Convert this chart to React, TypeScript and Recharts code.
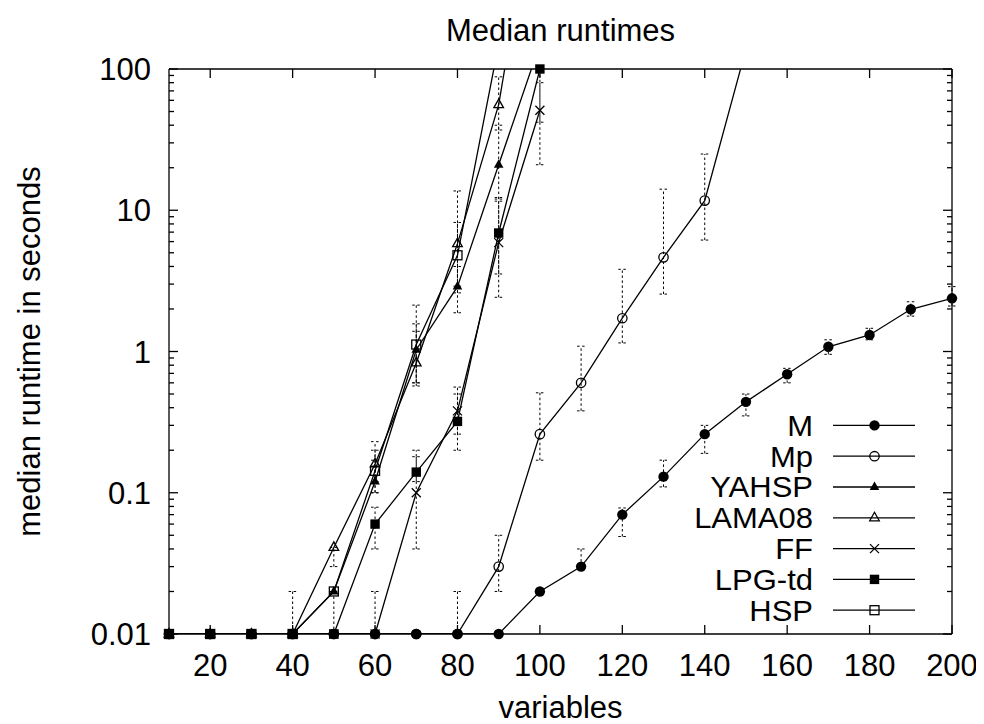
import React from 'react';
import { LineChart, Line, XAxis, YAxis, ErrorBar, Legend } from 'recharts';

const FONT = "'Liberation Sans', Arial, Helvetica, sans-serif";
const FS = 31;
const LEGEND_FS = 27.5;

// ---------- data ----------
const variables = [10, 20, 30, 40, 50, 60, 70, 80, 90, 100, 110, 120, 130, 140, 150, 160, 170, 180, 190, 200];

const valM = [0.01, 0.01, 0.01, 0.01, 0.01, 0.01, 0.01, 0.01, 0.01, 0.02, 0.03, 0.07, 0.13, 0.26, 0.44, 0.69, 1.08, 1.31, 1.99, 2.38];
const valMp = [0.01, 0.01, 0.01, 0.01, 0.01, 0.01, 0.01, 0.01, 0.03, 0.26, 0.6, 1.72, 4.64, 11.7, 138, null, null, null, null, null];
const valYAHSP = [0.01, 0.01, 0.01, 0.01, 0.02, 0.12, 1.03, 2.88, 21, 150, null, null, null, null, null, null, null, null, null, null];
const valLAMA08 = [0.01, 0.01, 0.01, 0.01, 0.041, 0.16, 0.83, 5.8, 56, 3000, null, null, null, null, null, null, null, null, null, null];
const valFF = [0.01, 0.01, 0.01, 0.01, 0.01, 0.01, 0.1, 0.38, 5.9, 51, null, null, null, null, null, null, null, null, null, null];
const valLPG = [0.01, 0.01, 0.01, 0.01, 0.01, 0.06, 0.14, 0.32, 6.9, 100, null, null, null, null, null, null, null, null, null, null];
const valHSP = [0.01, 0.01, 0.01, 0.01, 0.02, 0.143, 1.12, 4.8, 150, null, null, null, null, null, null, null, null, null, null, null];

// error ranges [low, high] (absolute values), null = no bar
const N = null;
const errM = [N, N, N, N, N, N, N, N, N, N, [0.03, 0.04], [0.049, 0.078], [0.11, 0.17], [0.19, 0.3], [0.35, 0.5], [0.6, 0.76], [0.955, 1.21], [1.21, 1.46], [1.78, 2.25], [2.1, 2.88]];
const errMp = [N, N, N, N, N, N, N, [0.01, 0.02], [0.02, 0.05], [0.17, 0.51], [0.38, 1.09], [1.15, 3.82], [2.55, 14.1], [6.15, 25], N, N, N, N, N, N];
const errYAHSP = [N, N, N, [0.01, 0.02], N, [0.1, 0.2], [0.6, 1.39], [1.88, 4.0], [12, 40], N, N, N, N, N, N, N, N, N, N, N];
const errLAMA08 = [N, N, N, N, [0.03, 0.041], [0.12, 0.23], [0.57, 1.57], [2.6, 13.7], [37, 88], N, N, N, N, N, N, N, N, N, N, N];
const errFF = [N, N, N, N, [0.01, 0.02], [0.01, 0.02], [0.04, 0.18], [0.2, 0.56], [2.42, 11.6], [21, 80], N, N, N, N, N, N, N, N, N, N];
const errLPG = [N, N, N, N, N, [0.04, 0.079], [0.12, 0.2], [0.26, 0.5], [3.54, 12.3], [42, 100], N, N, N, N, N, N, N, N, N, N];
const errHSP = [N, N, N, N, N, [0.1, 0.17], [0.6, 2.13], [2.9, 8.2], N, N, N, N, N, N, N, N, N, N, N, N];

const xTicks = [20, 40, 60, 80, 100, 120, 140, 160, 180, 200];
const yMajorTicks = [0.01, 0.1, 1, 10, 100];
const yMajorLabels = ['0.01', '0.1', '1', '10', '100'];
const yMinorTicks = [0.02, 0.03, 0.04, 0.05, 0.06, 0.07, 0.08, 0.09, 0.2, 0.3, 0.4, 0.5, 0.6, 0.7, 0.8, 0.9, 2, 3, 4, 5, 6, 7, 8, 9, 20, 30, 40, 50, 60, 70, 80, 90];

const SERIES = [
  { key: 'M', name: 'M', values: valM, errors: errM, marker: 'circleFilled' },
  { key: 'Mp', name: 'Mp', values: valMp, errors: errMp, marker: 'circleOpen' },
  { key: 'YAHSP', name: 'YAHSP', values: valYAHSP, errors: errYAHSP, marker: 'triFilled' },
  { key: 'LAMA08', name: 'LAMA08', values: valLAMA08, errors: errLAMA08, marker: 'triOpen' },
  { key: 'FF', name: 'FF', values: valFF, errors: errFF, marker: 'cross' },
  { key: 'LPGtd', name: 'LPG-td', values: valLPG, errors: errLPG, marker: 'sqFilled' },
  { key: 'HSP', name: 'HSP', values: valHSP, errors: errHSP, marker: 'sqOpen' },
];

const table = variables.map((x, i) => {
  const row: any = { x };
  SERIES.forEach((s) => {
    const v = s.values[i];
    row[s.key] = v;
    const e = s.errors[i] as number[] | null;
    row[s.key + '_err'] = e && v != null ? [Math.max(v - e[0], 0), Math.max(e[1] - v, 0)] : null;
  });
  return row;
});

// ---------- layout ----------
const W = 976;
const H = 716;
const TOP_H = 61;
const BOTTOM_H = 90;
const LEFT_W = 161;
const RIGHT_W = 32;
const PL = LEFT_W;
const PR = W - RIGHT_W;
const PT = TOP_H;
const PB = H - BOTTOM_H;
const MAJ = 9;
const MIN = 5;
const LW = 1.3;
const ROW_H = 30.8;

function Marker({ kind, cx, cy }: { kind: string; cx: number; cy: number }) {
  switch (kind) {
    case 'circleFilled':
      return <circle cx={cx} cy={cy} r={5.2} fill="#000" />;
    case 'circleOpen':
      return <circle cx={cx} cy={cy} r={4.7} fill="none" stroke="#000" strokeWidth={1.3} />;
    case 'triFilled':
      return <polygon points={`${cx},${cy - 5.5} ${cx + 4.8},${cy + 3} ${cx - 4.8},${cy + 3}`} fill="#000" />;
    case 'triOpen':
      return <polygon points={`${cx},${cy - 5.5} ${cx + 4.8},${cy + 3} ${cx - 4.8},${cy + 3}`} fill="none" stroke="#000" strokeWidth={1.3} />;
    case 'cross':
      return <path d={`M${cx - 4.5},${cy - 4.5}L${cx + 4.5},${cy + 4.5}M${cx - 4.5},${cy + 4.5}L${cx + 4.5},${cy - 4.5}`} stroke="#000" strokeWidth={1.3} fill="none" />;
    case 'sqFilled':
      return <rect x={cx - 4.7} y={cy - 4.7} width={9.4} height={9.4} fill="#000" />;
    case 'sqOpen':
      return <rect x={cx - 4.5} y={cy - 4.5} width={9} height={9} fill="none" stroke="#000" strokeWidth={1.3} />;
    default:
      return null;
  }
}

// markers are drawn through the line's label layer so that points on the frame are not clipped
const makeMarkerLabel = (kind: string) => (props: any) => {
  const vb = props.viewBox || {};
  const cx = vb.x != null ? vb.x : props.x;
  const cy = vb.y != null ? vb.y : props.y;
  const value = props.value;
  const k = `mk-${kind}-${props.index}`;
  if (cx == null || cy == null || value == null || Number(value) > 100 || Number.isNaN(cy)) return <g key={k} />;
  return (
    <g key={k}>
      <Marker kind={kind} cx={cx} cy={cy} />
    </g>
  );
};

const textStyle = { fontFamily: FONT, fontSize: FS, fill: '#000' };

const XTickBottom = (props: any) => {
  const { x, payload } = props;
  return (
    <g>
      <line x1={x} x2={x} y1={PB} y2={PB - MAJ} stroke="#000" strokeWidth={LW} />
      <text x={x} y={PB + 42} textAnchor="middle" style={textStyle}>
        {String(payload.value)}
      </text>
    </g>
  );
};

const XTickTop = (props: any) => {
  const { x } = props;
  return <line x1={x} x2={x} y1={PT} y2={PT + MAJ} stroke="#000" strokeWidth={LW} />;
};

const YTickLeft = (props: any) => {
  const { y, payload } = props;
  const idx = yMajorTicks.indexOf(payload.value);
  const major = idx >= 0;
  return (
    <g>
      <line x1={PL} x2={PL + (major ? MAJ : MIN)} y1={y} y2={y} stroke="#000" strokeWidth={LW} />
      {major && (
        <text x={PL - 18} y={y} dy="0.36em" textAnchor="end" style={textStyle}>
          {yMajorLabels[idx]}
        </text>
      )}
    </g>
  );
};

const YTickRight = (props: any) => {
  const { y, payload } = props;
  const major = yMajorTicks.indexOf(payload.value) >= 0;
  return <line x1={PR} x2={PR - (major ? MAJ : MIN)} y1={y} y2={y} stroke="#000" strokeWidth={LW} />;
};

const TitleLabel = (props: any) => {
  const vb = props.viewBox || { x: PL, y: 0, width: PR - PL, height: TOP_H };
  return (
    <text x={vb.x + vb.width / 2} y={33} textAnchor="middle" style={textStyle}>
      Median runtimes
    </text>
  );
};

const XLabel = (props: any) => {
  const vb = props.viewBox || { x: PL, y: PB, width: PR - PL, height: BOTTOM_H };
  return (
    <text x={vb.x + vb.width / 2} y={H - 6} textAnchor="middle" style={textStyle}>
      variables
    </text>
  );
};

const YLabel = (props: any) => {
  const vb = props.viewBox || { x: 0, y: PT, width: LEFT_W, height: PB - PT };
  const cx = 21;
  const cy = vb.y + vb.height / 2;
  return (
    <text x={cx} y={cy} dy="0.36em" textAnchor="middle" transform={`rotate(-90, ${cx}, ${cy})`} style={textStyle}>
      median runtime in seconds
    </text>
  );
};

const LegendBox = () => (
  <svg width={420} height={ROW_H * SERIES.length} style={{ display: 'block', overflow: 'visible' }}>
    {SERIES.map((s, i) => {
      const cy = ROW_H * i + ROW_H / 2;
      return (
        <g key={s.key}>
          <text
            x={0}
            y={0}
            dy="0.36em"
            textAnchor="end"
            transform={`translate(300, ${cy}) scale(${FS / LEGEND_FS}, 1.04)`}
            style={{ ...textStyle, fontSize: LEGEND_FS }}
          >
            {s.name}
          </text>
          <line x1={320} x2={402} y1={cy} y2={cy} stroke="#000" strokeWidth={LW} />
          <Marker kind={s.marker} cx={361.5} cy={cy} />
        </g>
      );
    })}
  </svg>
);

export default function App() {
  return (
    <div style={{ width: W, height: H }}>
      <LineChart width={W} height={H} data={table} margin={{ top: 0, right: 0, bottom: 0, left: 0 }}>
        <XAxis
          xAxisId="b"
          dataKey="x"
          type="number"
          domain={[10, 200]}
          allowDataOverflow
          ticks={xTicks}
          interval={0}
          height={BOTTOM_H}
          tickLine={false}
          tick={XTickBottom}
          stroke="#000"
          strokeWidth={LW}
          label={XLabel}
        />
        <XAxis
          xAxisId="t"
          orientation="top"
          dataKey="x"
          type="number"
          domain={[10, 200]}
          allowDataOverflow
          ticks={xTicks}
          interval={0}
          height={TOP_H}
          tickLine={false}
          tick={XTickTop}
          stroke="#000"
          strokeWidth={LW}
          label={TitleLabel}
        />
        <YAxis
          yAxisId="l"
          scale="log"
          type="number"
          domain={[0.01, 100]}
          allowDataOverflow
          ticks={[...yMajorTicks, ...yMinorTicks]}
          interval={0}
          width={LEFT_W}
          tickLine={false}
          tick={YTickLeft}
          stroke="#000"
          strokeWidth={LW}
          label={YLabel}
        />
        <YAxis
          yAxisId="r"
          orientation="right"
          scale="log"
          type="number"
          domain={[0.01, 100]}
          allowDataOverflow
          ticks={[...yMajorTicks, ...yMinorTicks]}
          interval={0}
          width={RIGHT_W}
          tickLine={false}
          tick={YTickRight}
          stroke="#000"
          strokeWidth={LW}
        />
        {SERIES.map((s) => (
          <Line
            key={s.key}
            xAxisId="b"
            yAxisId="l"
            dataKey={s.key}
            name={s.name}
            type="linear"
            stroke="#000"
            strokeWidth={LW}
            dot={false}
            activeDot={false}
            label={makeMarkerLabel(s.marker)}
            isAnimationActive={false}
          >
            <ErrorBar
              dataKey={s.key + '_err'}
              direction="y"
              width={4}
              stroke="#000"
              strokeWidth={1}
              strokeDasharray="2.5 2.5"
              isAnimationActive={false}
            />
          </Line>
        ))}
        <Legend
          layout="vertical"
          align="center"
          verticalAlign="middle"
          content={LegendBox}
          wrapperStyle={{ position: 'absolute', left: 505, top: 401.6, width: 420, height: 216 }}
        />
      </LineChart>
    </div>
  );
}
